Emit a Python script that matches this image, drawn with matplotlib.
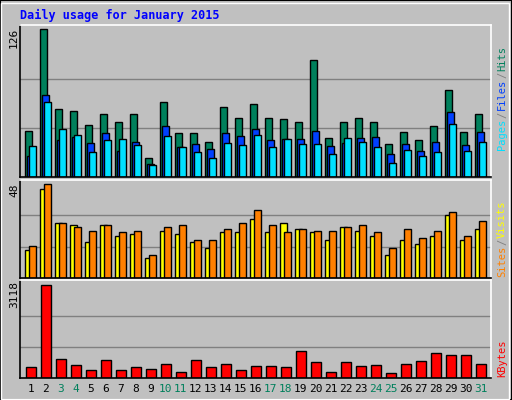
import matplotlib
matplotlib.use("Agg")
import matplotlib.pyplot as plt
from matplotlib.patches import Rectangle

days = list(range(1, 32))
weekends = [3, 4, 10, 11, 17, 18, 24, 25, 31]
hits = [39.6,126,58.4,56.7,44.8,54.2,47.3,54.2,16.5,64.4,37.9,37.9,30.2,60.1,50.7,62.7,50.7,49.9,47.3,99.5,33.6,47.3,50.7,47.3,28.5,38.8,31.9,43.9,74.7,38.8,54.2]
files = [18.2,69.6,31.9,34.5,29.4,37.9,22.5,30.2,11.4,43.9,25.9,28.5,24.2,37.9,35.3,41.3,31.9,32.8,32.8,39.6,26.8,29.4,33.6,34.5,20,28.5,22.5,30.2,55.9,27.7,38.8]
pages = [26.8,64.4,41.3,36.2,21.7,31.9,32.8,27.7,10.5,35.3,25.9,21.7,16.5,29.4,27.7,36.2,25.9,32.8,28.5,28.5,20,33.6,30.2,25.9,12.3,23.4,18.2,21.7,45.6,22.5,30.2]
visits = [16.2,48,28.2,26.1,24,27.1,23.5,24,11.5,26.1,27.1,19.3,19.3,25,28.2,34.4,27.1,23.5,25,24,24,26.1,27.1,23.5,15.1,25,20.3,24,33.4,21.4,29.2]
sites = [14.1,45.4,28.2,27.1,18.3,27.1,21.4,22.4,10.4,24,22.4,18.3,15.1,23.5,23.5,30.3,23.5,28.2,25,23.5,19.3,26.1,24,21.4,11.5,19.3,17.2,21.4,32.3,19.3,25]
kbytes = [377,3118,651,445,274,617,274,377,308,480,206,617,377,480,274,411,411,377,891,548,206,548,411,445,171,480,582,822,754,754,480]
max_hits, max_visits, max_kb = 126, 48, 3118

W, H = 512, 400
fig = plt.figure(figsize=(W/100, H/100), dpi=100)
fig.patch.set_facecolor("#c0c0c0")
mono = "DejaVu Sans Mono"

fig.add_artist(Rectangle((0, 0), 1, 1, transform=fig.transFigure, fill=False, ec="black", lw=1.5))
fig.add_artist(Rectangle((1/W, 1/H), 1-4/W, 1-4/H, transform=fig.transFigure, fill=False, ec="white", lw=1))

fig.text(20/W, 1-15/H, "Daily usage for January 2015", color="#0000ff", fontsize=8.5,
         fontweight="bold", family=mono, va="center")

def mkax(top, bot):
    ax = fig.add_axes([20/W, 1-bot/H, 471/W, (bot-top)/H])
    ax.set_facecolor("#c0c0c0")
    ax.set_xlim(20, 491)
    ax.set_xticks([]); ax.set_yticks([])
    for s in ["top", "right"]:
        ax.spines[s].set_color("white")
    for s in ["bottom", "left"]:
        ax.spines[s].set_color("black")
    for s in ax.spines.values():
        s.set_linewidth(1.2)
    return ax

x0 = [25.3 + 15*(d-1) for d in days]
kw = dict(align="edge", edgecolor="black", linewidth=1)

ax1 = mkax(25, 177)
ax1.set_ylim(0, max_hits*1.03)
for g in (max_hits/3, 2*max_hits/3):
    ax1.axhline(g, color="#808080", lw=1, zorder=0)
ax1.bar(x0, hits, width=7, color="#00805c", **kw)
ax1.bar([x+1.4 for x in x0], files, width=7, color="#0040ff", **kw)
ax1.bar([x+4 for x in x0], pages, width=7, color="#00e0ff", **kw)

ax2 = mkax(180, 278)
ax2.set_ylim(0, max_visits*1.04)
for g in (max_visits/3, 2*max_visits/3):
    ax2.axhline(g, color="#808080", lw=1, zorder=0)
ax2.bar(x0, sites, width=7, color="#ffff00", **kw)
ax2.bar([x+4 for x in x0], visits, width=7, color="#ff8000", **kw)

ax3 = mkax(280, 378)
ax3.set_ylim(0, max_kb*1.05)
for g in (max_kb/3, 2*max_kb/3):
    ax3.axhline(g, color="#808080", lw=1, zorder=0)
ax3.bar([x+1 for x in x0], kbytes, width=10, color="#ff0000", **kw)

for txt, y in [(str(max_hits), 38), (str(max_visits), 190), (str(max_kb), 295)]:
    fig.text(14/W, 1-y/H, txt, rotation=90, fontsize=8, family=mono, ha="center", va="center")

for d, x in zip(days, x0):
    fig.text((x+5.5)/W, 1-389/H, str(d), fontsize=8, family=mono, ha="center", va="center",
             color="#00805c" if d in weekends else "black")

renderer = fig.canvas.get_renderer()
def vlegend(parts, ybot):
    y = ybot
    for t, c in parts:
        tx = fig.text(502/W, 1-y/H, t, rotation=90, fontsize=7.5, family=mono, color=c,
                      ha="center", va="bottom")
        ext = tx.get_window_extent(renderer)
        y -= ext.height + 1
vlegend([("Pages", "#00e0ff"), ("/", "#808080"), ("Files", "#0040ff"), ("/", "#808080"), ("Hits", "#00805c")], 150)
vlegend([("Sites", "#ff8000"), ("/", "#808080"), ("Visits", "#ffff00")], 277)
vlegend([("KBytes", "#ff0000")], 377)

fig.savefig("out.png", dpi=100, facecolor=fig.get_facecolor())
